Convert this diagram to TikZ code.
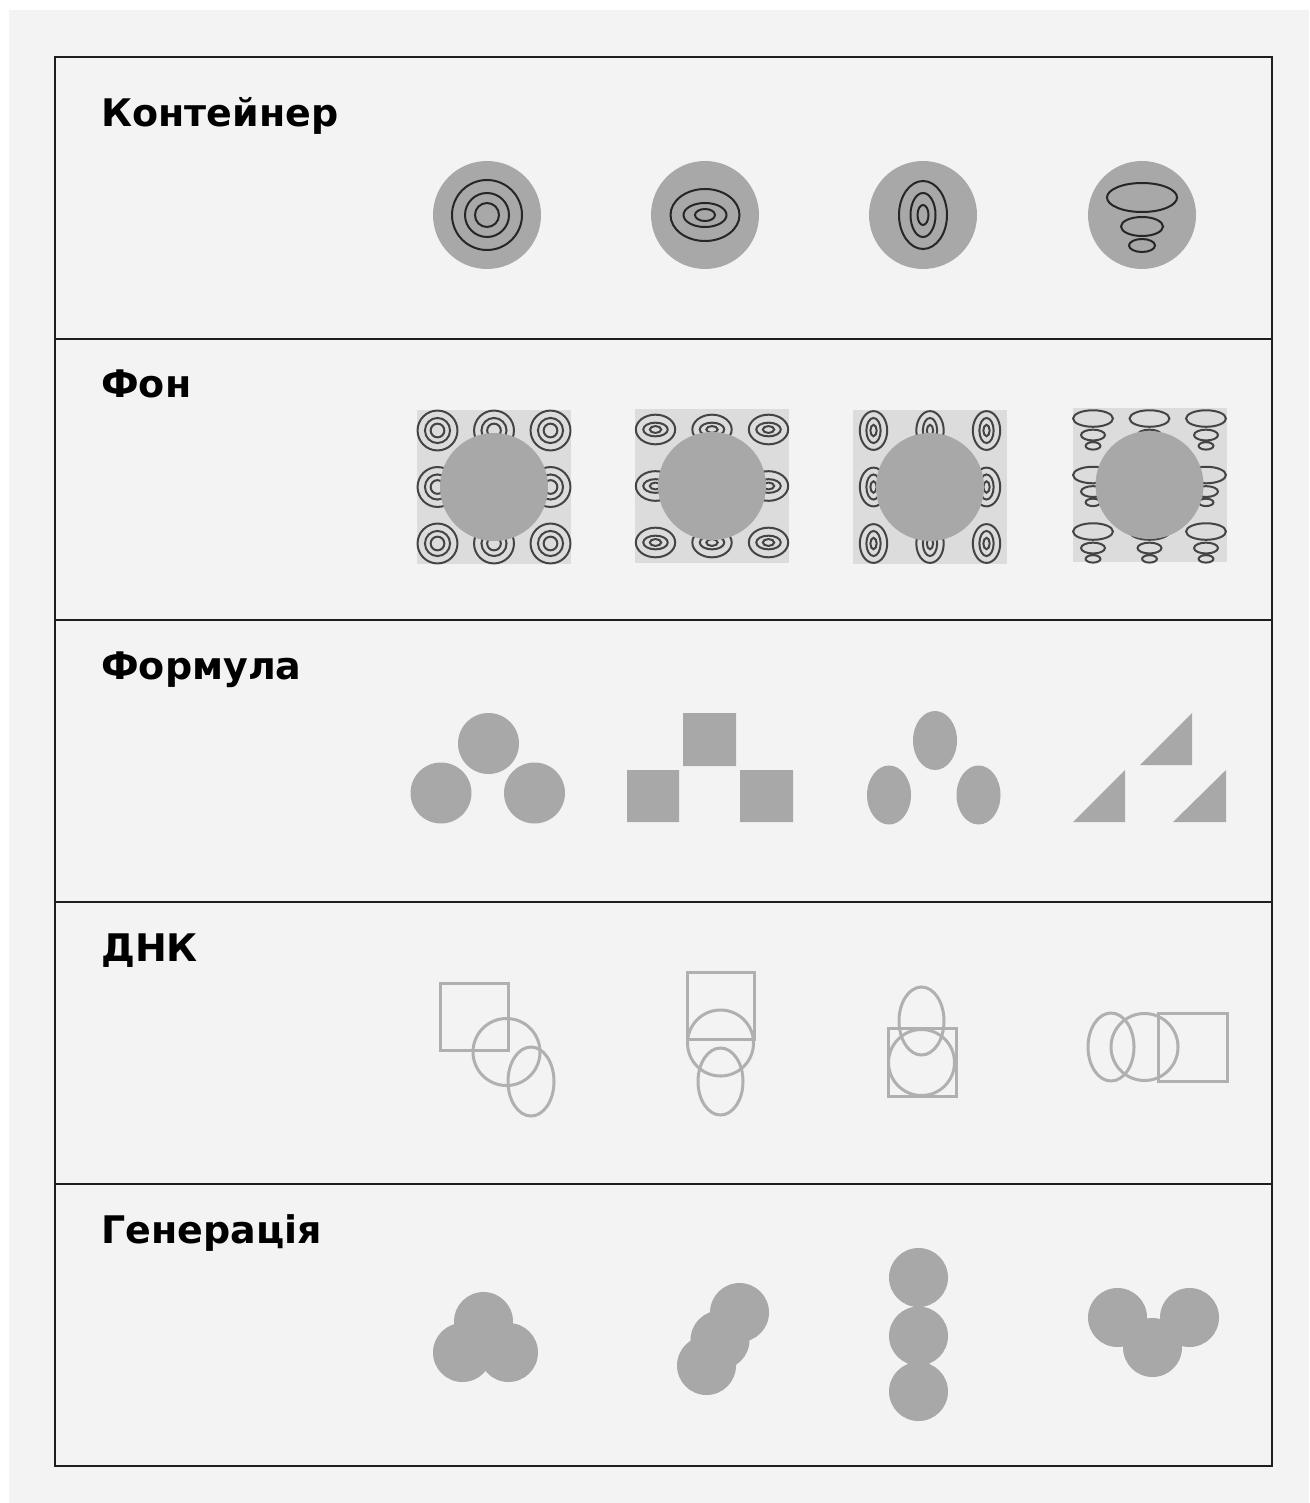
\documentclass[tikz,border=0pt]{standalone}
\usepackage{fontspec}
\setmainfont{DejaVu Sans}
\definecolor{pagegray}{HTML}{F3F3F3}
\definecolor{shapegray}{HTML}{A8A8A8}
\definecolor{bgsq}{HTML}{DCDCDC}
\definecolor{dnk}{HTML}{B0B0B0}
\definecolor{framecol}{HTML}{1E1E1E}
\definecolor{ringcol}{HTML}{262626}
\definecolor{ringbcol}{HTML}{444444}
\tikzset{
  rowlabel/.style={anchor=base west, inner sep=0pt, font=\fontsize{38}{46}\selectfont\bfseries},
  framebox/.style={draw=framecol, line width=2pt},
  ringline/.style={draw=ringcol, line width=2pt},
  bgring/.style={draw=ringbcol, line width=2pt},
  dnkline/.style={draw=dnk, line width=3pt},
  motifA/.pic={\draw[pic actions] (0,0) circle[radius=35] (0,0) circle[radius=22] (0,0) circle[radius=12];},
  motifB/.pic={\draw[pic actions] (0,0) ellipse[x radius=34.5,y radius=26] (0,0) ellipse[x radius=21.5,y radius=12] (0,0) ellipse[x radius=10,y radius=6];},
  motifC/.pic={\draw[pic actions] (0,0) ellipse[x radius=24,y radius=34] (0,0) ellipse[x radius=12.5,y radius=22] (0,0) ellipse[x radius=5.5,y radius=10];},
  motifD/.pic={\draw[pic actions] (0,-17.5) ellipse[x radius=35,y radius=14.5] (0,11.5) ellipse[x radius=21,y radius=9.5] (0,30.5) ellipse[x radius=13,y radius=6.5];},
}
\begin{document}
\begin{tikzpicture}[x=1pt,y=-1pt]
\useasboundingbox (0,0) rectangle (1309,1503);
\fill[white] (0,0) rectangle (1309,1503);
\fill[pagegray] (9,10) rectangle (1309,1503);
% frame
\draw[framebox] (55,57) rectangle (1272,1466);
\foreach \yy in {339,620,902,1184} \draw[framebox] (55,\yy) -- (1272,\yy);
% labels
\node[rowlabel] (l1) at (101,127) {Контейнер};
\node[rowlabel] (l2) at (101,397) {Фон};
\node[rowlabel] (l3) at (101,679) {Формула};
\node[rowlabel] (l4) at (101,961) {ДНК};
\node[rowlabel] (l5) at (101,1243) {Генерація};
% row 1: container
\foreach \cx in {487,705,923,1142} \fill[shapegray] (\cx,215) circle[radius=54];
\pic[ringline] at (487,215) {motifA};
\pic[ringline] at (705,215) {motifB};
\pic[ringline] at (923,215) {motifC};
\pic[ringline] at (1142,215) {motifD};
% row 2: background
\foreach \cx/\cy/\m in {494/487/motifA, 712/486/motifB, 930/487/motifC, 1149.5/485/motifD}{
  \fill[bgsq] (\cx-77,\cy-77) rectangle (\cx+77,\cy+77);
  \foreach \i in {-1,0,1}{
    \foreach \j in {-1,0,1}{
      \pic[bgring, scale=0.57] at (\cx+\i*56.5,\cy+\j*56.5) {\m};
    }
  }
  \fill[shapegray] (\cx,\cy) circle[radius=54];
}
% row 3: formula
\fill[shapegray] (488.5,743.5) circle[radius=30.5] (441,793) circle[radius=30.5] (534.5,793) circle[radius=30.5];
\fill[shapegray] (683,713) rectangle (736,766) (627,770) rectangle (679,822) (740,770) rectangle (793,822);
\fill[shapegray] (935,740.5) ellipse[x radius=22,y radius=29.5] (889,795) ellipse[x radius=22,y radius=29.5] (978.5,795) ellipse[x radius=22,y radius=29.5];
\fill[shapegray] (1140,765) -- (1192,713) -- (1192,765) -- cycle;
\fill[shapegray] (1073,822) -- (1125,770) -- (1125,822) -- cycle;
\fill[shapegray] (1173,822) -- (1226,770) -- (1226,822) -- cycle;
% row 4: DNA
\draw[dnkline] (440,983) rectangle (508,1050);
\draw[dnkline] (506.5,1052) circle[radius=33.5];
\draw[dnkline] (531,1081.5) ellipse[x radius=23,y radius=34.5];
\draw[dnkline] (687,972) rectangle (754,1039);
\draw[dnkline] (720.5,1043) circle[radius=33];
\draw[dnkline] (720.5,1081.5) ellipse[x radius=22.5,y radius=33.5];
\draw[dnkline] (888,1028) rectangle (956,1096);
\draw[dnkline] (921.5,1062.5) circle[radius=33];
\draw[dnkline] (921.5,1021) ellipse[x radius=22.5,y radius=34];
\draw[dnkline] (1111,1047) ellipse[x radius=23,y radius=34];
\draw[dnkline] (1144.5,1047) circle[radius=33.5];
\draw[dnkline] (1158,1013) rectangle (1227,1081);
% row 5: generation
\fill[shapegray] (483.5,1321.5) circle[radius=29.5] (462.5,1352.5) circle[radius=29.5] (508.5,1352.5) circle[radius=29.5];
\fill[shapegray] (739.5,1312.5) circle[radius=29.5] (720,1340) circle[radius=29.5] (706.5,1365.5) circle[radius=29.5];
\fill[shapegray] (918.5,1277.5) circle[radius=29.5] (918.5,1336) circle[radius=29.5] (918.5,1391.5) circle[radius=29.5];
\fill[shapegray] (1117.5,1317.5) circle[radius=29.5] (1189.5,1317.5) circle[radius=29.5] (1152.5,1347.5) circle[radius=29.5];
\end{tikzpicture}
\end{document}
